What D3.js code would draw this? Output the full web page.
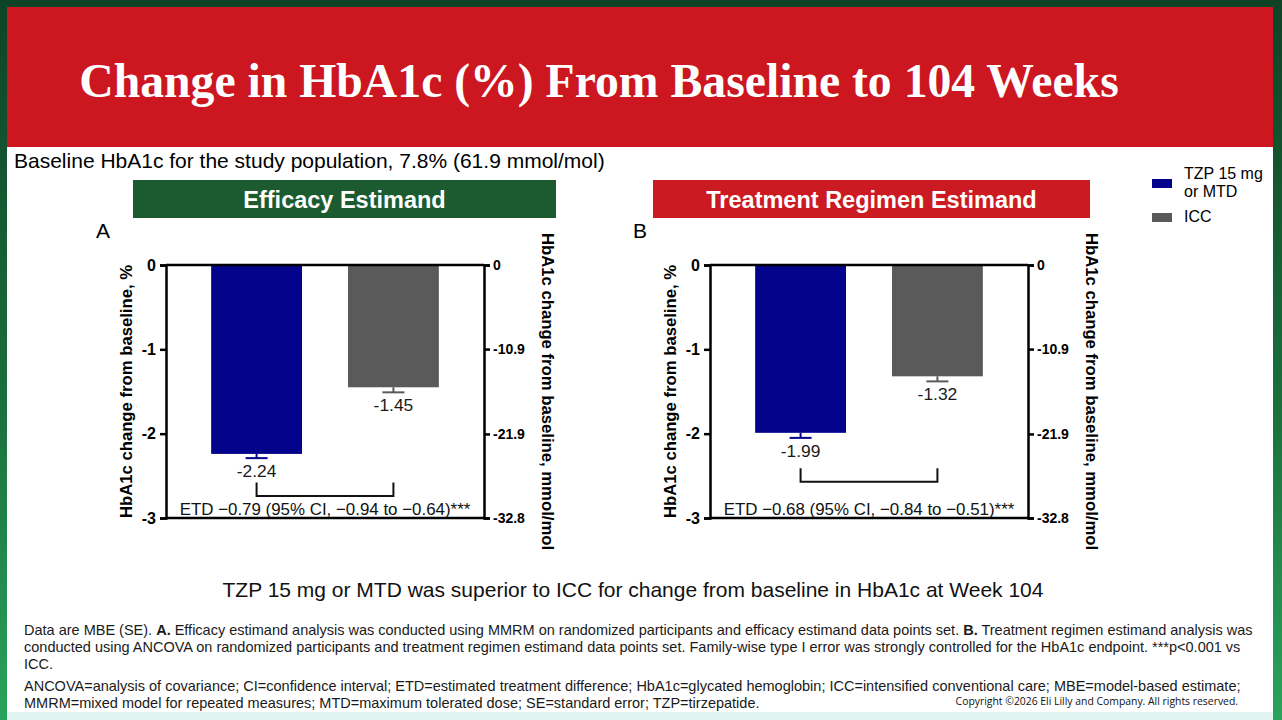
<!DOCTYPE html>
<html>
<head>
<meta charset="utf-8">
<script src="https://cdn.jsdelivr.net/npm/d3@7"></script>
<style>
    body { margin: 0; background: #ffffff; }
    svg { display: block; font-family: 'Liberation Sans', Arial, sans-serif; }
</style>
</head>
<body>
<svg id="canvas" width="1282" height="720"></svg>
<script>
// values
let panelTitles = ['Efficacy Estimand', 'Treatment Regimen Estimand']
let panelLetters = ['A', 'B']
let groups = ['TZP 15 mg or MTD', 'ICC']
let meansA = [-2.24, -1.45]
let seA = [0.05, 0.06]
let meansB = [-1.99, -1.32]
let seB = [0.06, 0.06]
let bracketTop = [-2.58, -2.41]
let bracketBottom = [-2.74, -2.57]
let etdLabels = ['ETD \u22120.79 (95% CI, \u22120.94 to \u22120.64)***', 'ETD \u22120.68 (95% CI, \u22120.84 to \u22120.51)***']
let leftTicks = [0, -1, -2, -3]
let rightTicks = [0, -10.9, -21.9, -32.8]
let rightTickLabels = ['0', '-10.9', '-21.9', '-32.8']

let barColors = ['#03038c', '#5a5a5a']
let headerColors = ['#1c5b30', '#cc1a22']

let canvas = d3.select('#canvas')

// frame
let defs = canvas.append('defs')
let grad = defs.append('linearGradient').attr('id', 'frameGrad')
        .attr('x1', 0).attr('y1', 0).attr('x2', 0).attr('y2', 1)
grad.append('stop').attr('offset', '0%').attr('stop-color', '#0e4326')
grad.append('stop').attr('offset', '55%').attr('stop-color', '#1a6e3c')
grad.append('stop').attr('offset', '100%').attr('stop-color', '#2aa35c')

canvas.append('rect').attr('x', 0).attr('y', 0).attr('width', 1282).attr('height', 720)
        .attr('fill', 'url(#frameGrad)')
canvas.append('rect').attr('x', 7).attr('y', 7).attr('width', 1266).attr('height', 713)
        .attr('fill', '#ffffff')
canvas.append('rect').attr('x', 7).attr('y', 712).attr('width', 1266).attr('height', 8)
        .attr('fill', '#e2f4ef')
canvas.append('rect').attr('x', 7).attr('y', 7).attr('width', 1266).attr('height', 140)
        .attr('fill', '#cc1620')

canvas.append('text')
        .text('Change in HbA1c (%) From Baseline to 104 Weeks')
        .attr('x', 599).attr('y', 97)
        .attr('text-anchor', 'middle')
        .style('font-family', "'Liberation Serif', 'Times New Roman', serif")
        .style('font-weight', 'bold')
        .style('font-size', '47.7px')
        .attr('fill', '#ffffff')

canvas.append('text')
        .text('Baseline HbA1c for the study population, 7.8% (61.9 mmol/mol)')
        .attr('x', 14).attr('y', 168)
        .style('font-size', '21px')
        .attr('fill', '#000000')

// legend
let legend = canvas.append('g').attr('transform', 'translate(1152, 0)')
legend.append('rect').attr('x', 0).attr('y', 179).attr('width', 20).attr('height', 9).attr('fill', barColors[0])
legend.append('rect').attr('x', 0).attr('y', 213).attr('width', 20).attr('height', 9).attr('fill', barColors[1])
legend.append('text').attr('x', 32).attr('y', 179).style('font-size', '16px').text('TZP 15 mg')
legend.append('text').attr('x', 32).attr('y', 197).style('font-size', '16px').text('or MTD')
legend.append('text').attr('x', 32).attr('y', 222).style('font-size', '16px').text(groups[1])

let panelData = [
    {means: meansA, se: seA},
    {means: meansB, se: seB}
]

let plotWidth = 318
let plotHeight = 253

let xScale = d3.scaleBand()
        .domain(groups)
        .range([0, plotWidth])
        .paddingInner(0.336)
        .paddingOuter(0.33)

let yScale = d3.scaleLinear()
        .domain([0, -3])
        .range([0, plotHeight])

let yRight = d3.scaleLinear()
        .domain([0, -32.8])
        .range([0, plotHeight])

let drawPanel = (i) => {
    let offset = i * 544
    let left = 166 + offset
    let top = 265

    let header = canvas.append('g')
    let hx = i === 0 ? 133 : 653
    let hw = i === 0 ? 423 : 437
    header.append('rect').attr('x', hx).attr('y', 180).attr('width', hw).attr('height', 38)
            .attr('fill', headerColors[i])
    header.append('text').text(panelTitles[i])
            .attr('x', hx + hw / 2).attr('y', 208)
            .attr('text-anchor', 'middle')
            .style('font-size', '23.5px').style('font-weight', 'bold')
            .attr('fill', '#ffffff')

    canvas.append('text').text(panelLetters[i])
            .attr('x', 96 + offset - (i === 0 ? 0 : 7)).attr('y', 238)
            .style('font-size', '21px')

    let g = canvas.append('g').attr('transform', 'translate(' + left + ', ' + top + ')')
    let d = panelData[i]

    g.selectAll('.bar')
            .data(groups)
            .enter()
            .append('rect')
            .attr('class', 'bar')
            .attr('x', (grp) => xScale(grp))
            .attr('y', 0)
            .attr('width', xScale.bandwidth())
            .attr('height', (grp, j) => yScale(d.means[j]))
            .attr('fill', (grp, j) => barColors[j])

    // one-sided error bars
    let err = g.selectAll('.err')
            .data(groups)
            .enter()
            .append('g')
            .attr('class', 'err')
    err.append('line')
            .attr('x1', (grp) => xScale(grp) + xScale.bandwidth() / 2)
            .attr('x2', (grp) => xScale(grp) + xScale.bandwidth() / 2)
            .attr('y1', (grp, j) => yScale(d.means[j]))
            .attr('y2', (grp, j) => yScale(d.means[j] - d.se[j]))
            .attr('stroke', (grp, j) => barColors[j])
            .attr('stroke-width', 2)
    err.append('line')
            .attr('x1', (grp) => xScale(grp) + xScale.bandwidth() / 2 - 11)
            .attr('x2', (grp) => xScale(grp) + xScale.bandwidth() / 2 + 11)
            .attr('y1', (grp, j) => yScale(d.means[j] - d.se[j]))
            .attr('y2', (grp, j) => yScale(d.means[j] - d.se[j]))
            .attr('stroke', (grp, j) => barColors[j])
            .attr('stroke-width', 2)

    g.selectAll('.val')
            .data(groups)
            .enter()
            .append('text')
            .attr('class', 'val')
            .text((grp, j) => d.means[j].toFixed(2))
            .attr('x', (grp) => xScale(grp) + xScale.bandwidth() / 2)
            .attr('y', (grp, j) => yScale(d.means[j] - d.se[j]) + 19)
            .attr('text-anchor', 'middle')
            .style('font-size', '17.4px')
            .attr('fill', '#1a1a1a')

    // bracket between groups
    let bx1 = xScale(groups[0]) + xScale.bandwidth() / 2
    let bx2 = xScale(groups[1]) + xScale.bandwidth() / 2
    g.append('path')
            .attr('d', 'M' + bx1 + ',' + yScale(bracketTop[i]) +
                       'V' + yScale(bracketBottom[i]) +
                       'H' + bx2 +
                       'V' + yScale(bracketTop[i]))
            .attr('fill', 'none')
            .attr('stroke', '#111111')
            .attr('stroke-width', 2)

    g.append('text').text(etdLabels[i])
            .attr('x', plotWidth / 2).attr('y', yScale(-3) - 3)
            .attr('text-anchor', 'middle')
            .style('font-size', '16.9px')
            .attr('fill', '#111111')

    // top and bottom lines
    g.append('line').attr('x1', 0).attr('x2', plotWidth).attr('y1', yScale(0)).attr('y2', yScale(0))
            .attr('stroke', '#000').attr('stroke-width', 2.5)
    g.append('line').attr('x1', 0).attr('x2', plotWidth).attr('y1', yScale(-3)).attr('y2', yScale(-3))
            .attr('stroke', '#000').attr('stroke-width', 2.5)

    let leftAxis = d3.axisLeft(yScale)
            .tickValues(leftTicks)
            .tickFormat(d3.format('d'))
            .tickSize(6)
            .tickPadding(4)
    let la = g.append('g').call(leftAxis)
    la.select('.domain').attr('stroke-width', 2.5)
    la.selectAll('.tick line').attr('stroke-width', 2.5)
    la.selectAll('.tick text')
            .text((v) => v === 0 ? '0' : '-' + Math.abs(v))
            .style('font-size', '16px').style('font-weight', 'bold')
            .style('font-family', "'Liberation Sans', Arial, sans-serif")
            .attr('fill', '#000')

    let rightAxis = d3.axisRight(yRight)
            .tickValues(rightTicks)
            .tickFormat((v, k) => rightTickLabels[k])
            .tickSize(6)
            .tickPadding(3)
    let ra = g.append('g').attr('transform', 'translate(' + plotWidth + ', 0)').call(rightAxis)
    ra.select('.domain').attr('stroke-width', 2.5)
    ra.selectAll('.tick line').attr('stroke-width', 2.5)
    ra.selectAll('.tick text')
            .style('font-size', '14px').style('font-weight', 'bold')
            .style('font-family', "'Liberation Sans', Arial, sans-serif")
            .attr('fill', '#000')

    g.append('text').text('HbA1c change from baseline, %')
            .attr('transform', 'translate(' + (-34) + ', ' + (plotHeight / 2) + ') rotate(-90)')
            .attr('text-anchor', 'middle')
            .style('font-size', '16.7px').style('font-weight', 'bold')
    g.append('text').text('HbA1c change from baseline, mmol/mol')
            .attr('transform', 'translate(' + (plotWidth + 58) + ', ' + (plotHeight / 2) + ') rotate(90)')
            .attr('text-anchor', 'middle')
            .style('font-size', '16.7px').style('font-weight', 'bold')
}

drawPanel(0)
drawPanel(1)

canvas.append('text')
        .text('TZP 15 mg or MTD was superior to ICC for change from baseline in HbA1c at Week 104')
        .attr('x', 633).attr('y', 597)
        .attr('text-anchor', 'middle')
        .style('font-size', '21px')
        .attr('fill', '#111111')

// footnotes
let footLines = [
    [['Data are MBE (SE). ', false], ['A.', true], [' Efficacy estimand analysis was conducted using MMRM on randomized participants and efficacy estimand data points set. ', false], ['B.', true], [' Treatment regimen estimand analysis was', false]],
    [['conducted using ANCOVA on randomized participants and treatment regimen estimand data points set. Family-wise type I error was strongly controlled for the HbA1c endpoint. ***p<0.001 vs', false]],
    [['ICC.', false]],
    [['ANCOVA=analysis of covariance; CI=confidence interval; ETD=estimated treatment difference; HbA1c=glycated hemoglobin; ICC=intensified conventional care; MBE=model-based estimate;', false]],
    [['MMRM=mixed model for repeated measures; MTD=maximum tolerated dose; SE=standard error; TZP=tirzepatide.', false]]
]
let footY = [635, 652, 669, 691, 708]

footLines.forEach((parts, k) => {
    let t = canvas.append('text')
            .attr('x', 24).attr('y', footY[k])
            .style('font-size', '14.5px')
            .attr('fill', '#1a1a1a')
    parts.forEach((p) => {
        t.append('tspan').text(p[0]).style('font-weight', p[1] ? 'bold' : 'normal')
    })
})

canvas.append('text')
        .text('Copyright \u00a92026 Eli Lilly and Company. All rights reserved.')
        .attr('x', 1238).attr('y', 705)
        .attr('text-anchor', 'end')
        .style('font-family', "'Open Sans', sans-serif")
        .style('font-size', '10.4px')
        .attr('fill', '#111111')
</script>
</body>
</html>
